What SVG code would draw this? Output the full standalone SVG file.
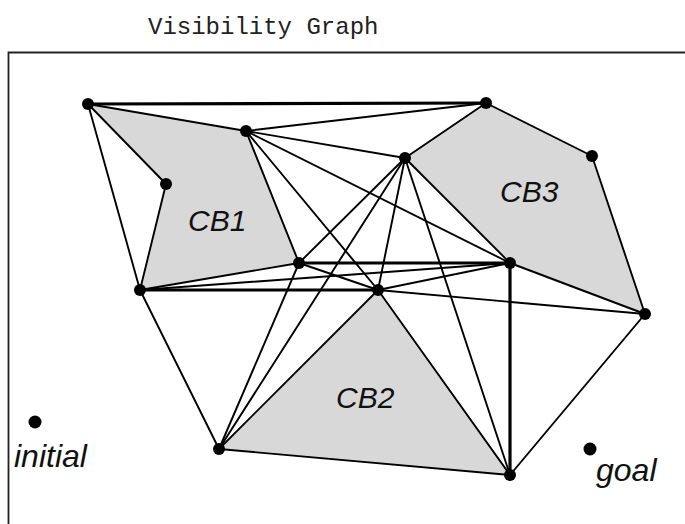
<svg xmlns="http://www.w3.org/2000/svg" width="685" height="524" viewBox="0 0 685 524">
  <style>
    .frame { fill: none; stroke: #222; stroke-width: 1.8; }
    .title { font-family: "Liberation Mono", "DejaVu Sans Mono", monospace; font-size: 24px; fill: #222; }
    .obstacle { fill: #d8d8d8; stroke: none; }
    .edge { stroke: #000; stroke-width: 1.9; fill: none; stroke-linecap: round; }
    .thick { stroke-width: 3.2; }
    .vertex { fill: #000; }
    .label { font-family: "Liberation Sans", Arial, sans-serif; font-style: italic; font-size: 30px; fill: #111; }
    .point-label { font-size: 32px; }
  </style>

  <text class="title" x="148" y="34">Visibility Graph</text>
  <path class="frame" d="M8.5,524 V52.5 H685"/>

  <!-- configuration-space obstacles -->
  <g id="obstacles">
    <polygon id="CB1" class="obstacle" points="88,104 246,131 299,263 140,290 166,184"/>
    <polygon id="CB2" class="obstacle" points="378,290 510,475 219,449"/>
    <polygon id="CB3" class="obstacle" points="486,103 592,156 645,314 510,263 405,158"/>
  </g>

  <!-- visibility edges -->
  <g id="connectors">
    <!-- obstacle boundaries -->
    <line class="edge" x1="88" y1="104" x2="246" y2="131"/>
    <line class="edge" x1="246" y1="131" x2="299" y2="263"/>
    <line class="edge" x1="299" y1="263" x2="140" y2="290"/>
    <line class="edge" x1="140" y1="290" x2="166" y2="184"/>
    <line class="edge" x1="166" y1="184" x2="88" y2="104"/>
    <line class="edge" x1="378" y1="290" x2="510" y2="475"/>
    <line class="edge" x1="510" y1="475" x2="219" y2="449"/>
    <line class="edge" x1="219" y1="449" x2="378" y2="290"/>
    <line class="edge" x1="486" y1="103" x2="592" y2="156"/>
    <line class="edge" x1="592" y1="156" x2="645" y2="314"/>
    <line class="edge" x1="645" y1="314" x2="510" y2="263"/>
    <line class="edge" x1="510" y1="263" x2="405" y2="158"/>
    <line class="edge" x1="405" y1="158" x2="486" y2="103"/>
    <!-- free-space segments -->
    <line class="edge thick" x1="88" y1="104" x2="486" y2="103"/>
    <line class="edge" x1="88" y1="104" x2="140" y2="290"/>
    <line class="edge" x1="246" y1="131" x2="486" y2="103"/>
    <line class="edge" x1="246" y1="131" x2="405" y2="158"/>
    <line class="edge" x1="246" y1="131" x2="510" y2="263"/>
    <line class="edge" x1="246" y1="131" x2="378" y2="290"/>
    <line class="edge" x1="405" y1="158" x2="299" y2="263"/>
    <line class="edge" x1="405" y1="158" x2="219" y2="449"/>
    <line class="edge" x1="405" y1="158" x2="378" y2="290"/>
    <line class="edge" x1="405" y1="158" x2="510" y2="475"/>
    <line class="edge thick" x1="299" y1="263" x2="510" y2="263"/>
    <line class="edge" x1="299" y1="263" x2="378" y2="290"/>
    <line class="edge" x1="299" y1="263" x2="219" y2="449"/>
    <line class="edge thick" x1="140" y1="290" x2="378" y2="290"/>
    <line class="edge" x1="140" y1="290" x2="510" y2="263"/>
    <line class="edge" x1="140" y1="290" x2="219" y2="449"/>
    <line class="edge" x1="378" y1="290" x2="510" y2="263"/>
    <line class="edge" x1="378" y1="290" x2="645" y2="314"/>
    <line class="edge thick" x1="510" y1="263" x2="510" y2="475"/>
    <line class="edge" x1="645" y1="314" x2="510" y2="475"/>
  </g>

  <!-- vertices -->
  <g id="v-a"><circle class="vertex" cx="88" cy="104" r="6"/></g>
  <g id="v-b"><circle class="vertex" cx="246" cy="131" r="6"/></g>
  <g id="v-c"><circle class="vertex" cx="166" cy="184" r="6"/></g>
  <g id="v-d"><circle class="vertex" cx="140" cy="290" r="6"/></g>
  <g id="v-e"><circle class="vertex" cx="299" cy="263" r="6"/></g>
  <g id="v-f"><circle class="vertex" cx="486" cy="103" r="6"/></g>
  <g id="v-g"><circle class="vertex" cx="405" cy="158" r="6"/></g>
  <g id="v-h"><circle class="vertex" cx="592" cy="156" r="6"/></g>
  <g id="v-i"><circle class="vertex" cx="510" cy="263" r="6"/></g>
  <g id="v-j"><circle class="vertex" cx="645" cy="314" r="6"/></g>
  <g id="v-k"><circle class="vertex" cx="378" cy="290" r="6"/></g>
  <g id="v-l"><circle class="vertex" cx="219" cy="449" r="6"/></g>
  <g id="v-m"><circle class="vertex" cx="510" cy="475" r="6"/></g>
  <g id="initial"><circle class="vertex" cx="35" cy="422" r="6.5"/><text class="label point-label" x="14" y="467">initial</text></g>
  <g id="goal"><circle class="vertex" cx="590" cy="449" r="6.5"/><text class="label point-label" x="596" y="481">goal</text></g>

  <!-- obstacle labels -->
  <text class="label" x="188" y="231">CB1</text>
  <text class="label" x="336" y="408">CB2</text>
  <text class="label" x="500" y="202">CB3</text>
</svg>
